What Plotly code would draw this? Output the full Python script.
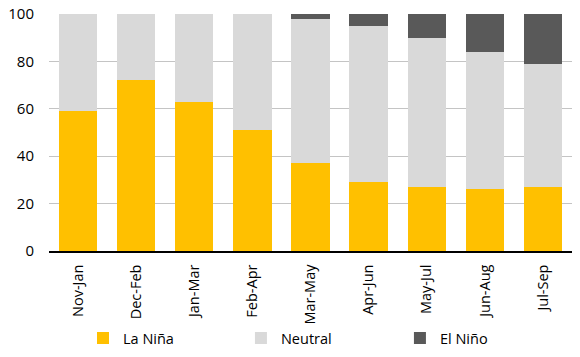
import plotly.graph_objects as go

categories = ["Nov-Jan", "Dec-Feb", "Jan-Mar", "Feb-Apr", "Mar-May", "Apr-Jun", "May-Jul", "Jun-Aug", "Jul-Sep"]
la_nina = [59, 72, 63, 51, 37, 29, 27, 26, 27]
neutral = [41, 28, 37, 49, 61, 66, 63, 58, 52]
el_nino = [0, 0, 0, 0, 2, 5, 10, 16, 21]
y_ticks = [0, 20, 40, 60, 80, 100]

fig = go.Figure()
fig.add_trace(go.Bar(x=categories, y=la_nina, name="La Niña", marker_color="#FFC000",
                     marker_line_width=0, legend="legend"))
fig.add_trace(go.Bar(x=categories, y=neutral, name="Neutral", marker_color="#D9D9D9",
                     marker_line_width=0, legend="legend2"))
fig.add_trace(go.Bar(x=categories, y=el_nino, name="El Niño", marker_color="#595959",
                     marker_line_width=0, legend="legend3"))

leg = dict(orientation="h", xanchor="left", yref="container", y=0.053, yanchor="middle",
           font=dict(size=14.5), itemwidth=30, bgcolor="rgba(0,0,0,0)")

fig.update_layout(
    barmode="stack",
    bargap=0.34,
    width=580, height=357,
    margin=dict(l=49, r=8, t=13, b=106),
    plot_bgcolor="white", paper_bgcolor="white",
    font=dict(family="Open Sans, DejaVu Sans, sans-serif", size=14, color="#000000"),
    showlegend=True,
    legend=dict(leg, x=0.065),
    legend2=dict(leg, x=0.367),
    legend3=dict(leg, x=0.671),
)
fig.update_xaxes(tickangle=-90, showline=True, linecolor="#000000", linewidth=1.5,
                 ticks="outside", ticklen=6, tickcolor="rgba(0,0,0,0)",
                 showgrid=False, tickfont=dict(size=14.5), automargin=False)
fig.update_yaxes(range=[0, 100.4], tickvals=y_ticks, showgrid=True, gridcolor="#C4C4C4",
                 gridwidth=1, zeroline=False, showline=False,
                 ticks="outside", ticklen=11, tickcolor="rgba(0,0,0,0)",
                 tickfont=dict(size=15), automargin=False)

fig.write_html("out.html", config={"displayModeBar": False},
               post_script="document.body.style.margin='0';")
